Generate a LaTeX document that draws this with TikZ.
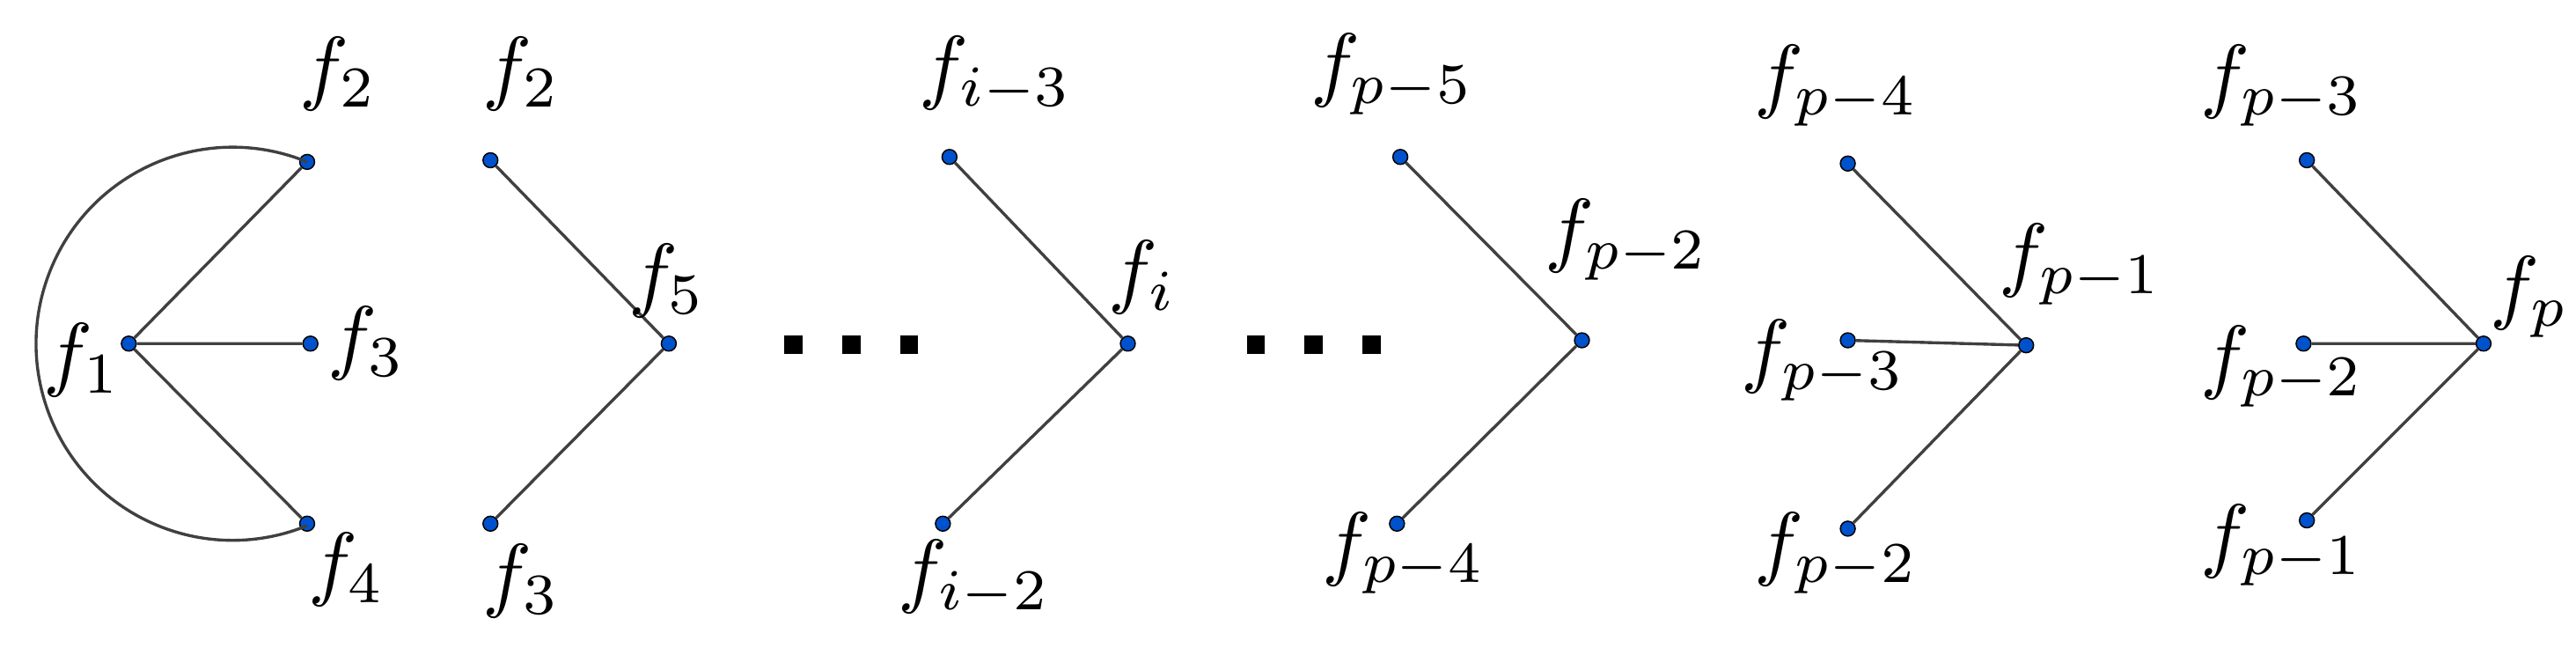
\documentclass[tikz,border=0pt]{standalone}
\begin{document}
\begin{tikzpicture}[x=1pt,y=-1pt,
  v/.style={circle,draw=black,fill=blue!60!cyan!80!black,inner sep=0pt,minimum size=9pt,line width=0.8pt},
  lab/.style={scale=5},
  e/.style={draw=black!75,line width=1.8pt},
  sq/.style={fill=black}]
\useasboundingbox (0,0) rectangle (1560,392);
% group 1
\node[v] (a1) at (78,208) {};
\node[v] (a2) at (186,98) {};
\node[v] (a3) at (188,208) {};
\node[v] (a4) at (186,317) {};
\draw[e] (a1)--(a2) (a1)--(a3) (a1)--(a4);
\draw[e] (a2.center) arc(292.3:67.7:119);
\node[lab] (la1) at (50,218) {$f_1$};
\node[lab] (la2) at (205,45) {$f_2$};
\node[lab] (la3) at (222,208) {$f_3$};
\node[lab] (la4) at (210,345) {$f_4$};
% group 2
\node[v] (b1) at (297,97) {};
\node[v] (b2) at (405,208) {};
\node[v] (b3) at (297,317) {};
\draw[e] (b1)--(b2)--(b3);
\node[lab] (lb1) at (316,45) {$f_2$};
\node[lab] (lb2) at (404,170) {$f_5$};
\node[lab] (lb3) at (316,352) {$f_3$};
% dots
\fill[sq] (475,203) rectangle (486,214);
\fill[sq] (510,203) rectangle (521,214);
\fill[sq] (545,203) rectangle (556,214);
\fill[sq] (755,203) rectangle (766,214);
\fill[sq] (790,203) rectangle (801,214);
\fill[sq] (825,203) rectangle (836,214);
% group 3
\node[v] (c1) at (575,95) {};
\node[v] (c2) at (683,208) {};
\node[v] (c3) at (571,317) {};
\draw[e] (c1)--(c2)--(c3);
\node[lab] (lc1) at (603,45) {$f_{i-3}$};
\node[lab] (lc2) at (692,168) {$f_i$};
\node[lab] (lc3) at (590,350) {$f_{i-2}$};
% group 4
\node[v] (d1) at (848,95) {};
\node[v] (d2) at (958,206) {};
\node[v] (d3) at (846,317) {};
\draw[e] (d1)--(d2)--(d3);
\node[lab] (ld1) at (843,45) {$f_{p-5}$};
\node[lab] (ld2) at (985,145) {$f_{p-2}$};
\node[lab] (ld3) at (850,335) {$f_{p-4}$};
% group 5
\node[v] (g1) at (1119,99) {};
\node[v] (g2) at (1119,206) {};
\node[v] (g3) at (1119,320) {};
\node[v] (g4) at (1227,209) {};
\draw[e] (g1)--(g4) (g2)--(g4) (g3)--(g4);
\node[lab] (lg1) at (1112,52) {$f_{p-4}$};
\node[lab] (lg2) at (1104,218) {$f_{p-3}$};
\node[lab] (lg3) at (1112,335) {$f_{p-2}$};
\node[lab] (lg4) at (1260,160) {$f_{p-1}$};
% group 6
\node[v] (h1) at (1397,97) {};
\node[v] (h2) at (1395,208) {};
\node[v] (h3) at (1397,315) {};
\node[v] (h4) at (1504,208) {};
\draw[e] (h1)--(h4) (h2)--(h4) (h3)--(h4);
\node[lab] (lh1) at (1382,52) {$f_{p-3}$};
\node[lab] (lh2) at (1382,222) {$f_{p-2}$};
\node[lab] (lh3) at (1382,330) {$f_{p-1}$};
\node[lab] (lh4) at (1532,180) {$f_p$};
\end{tikzpicture}
\end{document}
